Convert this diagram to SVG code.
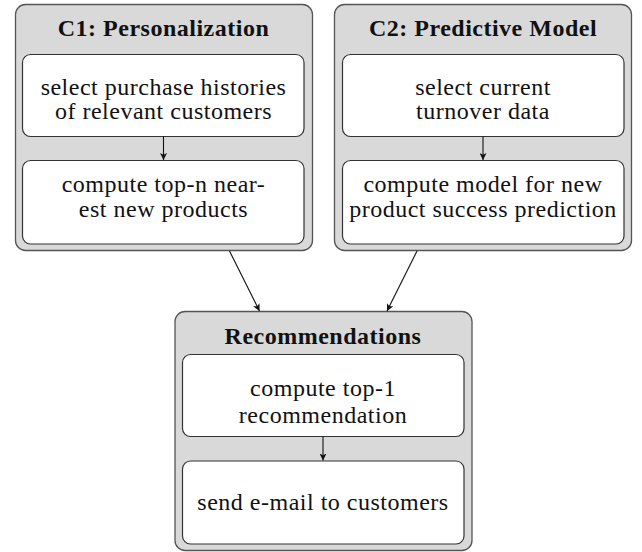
<svg xmlns="http://www.w3.org/2000/svg" width="642" height="552" viewBox="0 0 642 552">
<style>
.outer{fill:#d9d9d9;stroke:#555;stroke-width:1.3}
.inner{fill:#fff;stroke:#333;stroke-width:1.2}
text{font-family:"Liberation Serif","Times New Roman",serif;font-size:24px;fill:#111;text-anchor:middle;letter-spacing:0.5px}
.title{font-weight:bold}
.conn{stroke:#111;stroke-width:1.1;fill:none;marker-end:url(#ah)}
</style>
<defs>
<marker id="ah" viewBox="0 0 10 10" refX="10" refY="5" markerWidth="7" markerHeight="7" markerUnits="userSpaceOnUse" orient="auto">
<path d="M0,0 L10,5 L0,10 L2.5,5 Z" fill="#111"/>
</marker>
</defs>
<g id="c1">
<rect class="outer" x="15.5" y="4.5" width="297" height="246" rx="10"/>
<text class="title" x="163.5" y="36">C1: Personalization</text>
<g id="c1-select">
<rect class="inner" x="22.5" y="54.5" width="281.5" height="82" rx="8"/>
<text x="163.5" y="95">select purchase histories</text>
<text x="163.5" y="119">of relevant customers</text>
</g>
<g id="c1-compute">
<rect class="inner" x="22.5" y="160.5" width="281.5" height="83.5" rx="8"/>
<text x="163.5" y="192">compute top-n near-</text>
<text x="163.5" y="217">est new products</text>
</g>
</g>
<g id="c2">
<rect class="outer" x="334.5" y="4.5" width="297" height="246" rx="10"/>
<text class="title" x="483" y="36">C2: Predictive Model</text>
<g id="c2-select">
<rect class="inner" x="342.5" y="54.5" width="281.5" height="82" rx="8"/>
<text x="483" y="95">select current</text>
<text x="483" y="119">turnover data</text>
</g>
<g id="c2-compute">
<rect class="inner" x="342.5" y="160.5" width="281.5" height="83.5" rx="8"/>
<text x="483" y="192">compute model for new</text>
<text x="483" y="217">product success prediction</text>
</g>
</g>
<g id="rec">
<rect class="outer" x="175" y="311.5" width="297" height="239" rx="10"/>
<text class="title" x="323" y="344">Recommendations</text>
<g id="rec-compute">
<rect class="inner" x="182.5" y="354.5" width="281.5" height="82" rx="8"/>
<text x="323" y="396">compute top-1</text>
<text x="323" y="423">recommendation</text>
</g>
<g id="rec-send">
<rect class="inner" x="182.5" y="461" width="281.5" height="83" rx="8"/>
<text x="323" y="510">send e-mail to customers</text>
</g>
</g>
<g id="connectors">
<line class="conn" x1="163.5" y1="136.5" x2="163.5" y2="160"/>
<line class="conn" x1="483" y1="136.5" x2="483" y2="160"/>
<line class="conn" x1="323" y1="436.5" x2="323" y2="460.5"/>
<line class="conn" x1="229.5" y1="251" x2="259.5" y2="311"/>
<line class="conn" x1="417" y1="251" x2="387" y2="311"/>
</g>
</svg>
